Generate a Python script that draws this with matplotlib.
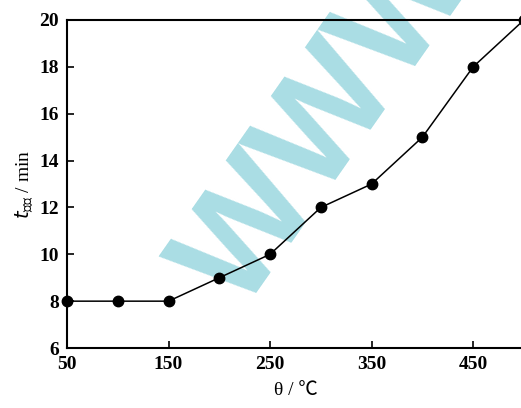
import matplotlib
matplotlib.use("Agg")
import matplotlib.pyplot as plt

temps = [50, 100, 150, 200, 250, 300, 350, 400, 450, 500]
times = [8, 8, 8, 9, 10, 12, 13, 15, 18, 20]
xticks = [50, 150, 250, 350, 450]
yticks = [6, 8, 10, 12, 14, 16, 18, 20]

plt.rcParams['font.family'] = ['Liberation Serif', 'Noto Sans CJK SC']

fig = plt.figure(figsize=(5.21, 4.08), dpi=100)
ax = fig.add_axes([0.1286, 0.147, 0.877, 0.804])
ax.patch.set_alpha(0)

ax.plot(temps, times, color='black', lw=1.1, marker='o', ms=7.5, clip_on=False, zorder=3)
ax.set_xlim(50, 500)
ax.set_ylim(6, 20)
ax.set_xticks(xticks)
ax.set_yticks(yticks)
ax.tick_params(direction='in', length=5, width=1.2, labelsize=14, pad=6)
for lab in ax.get_xticklabels() + ax.get_yticklabels():
    lab.set_fontweight('bold')
for s in ax.spines.values():
    s.set_linewidth(1.5)
    s.set_zorder(2.5)

ax.set_xlabel('θ / ℃', fontsize=14, labelpad=6)
ax.set_ylabel('$\\mathit{t}_{\\mathrm{腐蚀}}$ / min', fontsize=14, labelpad=2)

ax.text(0.4645, 0.2304, 'WWWW', transform=fig.transFigure, color='#aadde4',
        fontsize=106, fontweight='bold', rotation=55, rotation_mode='anchor',
        ha='left', va='baseline', family='Liberation Sans', zorder=1, clip_on=False)

fig.savefig('out.png', dpi=100)
